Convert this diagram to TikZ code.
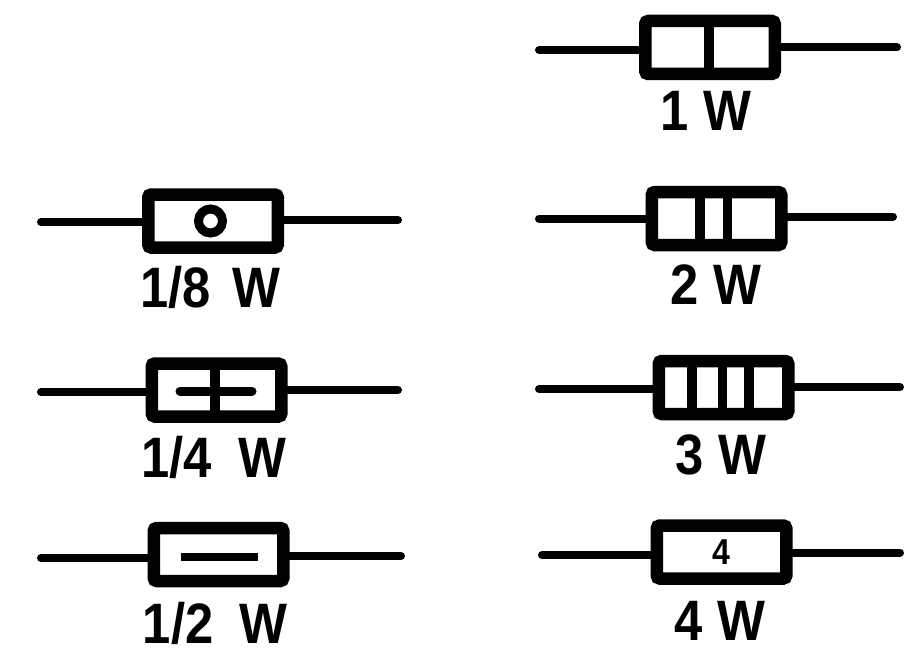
\documentclass[tikz,border=0pt]{standalone}
\usepackage{fontspec}
\usepackage{graphicx}
\setmainfont{Liberation Sans}
\newcommand{\lbltext}[1]{\scalebox{.89}[1]{#1}}
\tikzset{
  resbody/.style={draw=black,line width=12.5pt,rounded corners=3pt,fill=white,inner sep=0pt,minimum width=129.5pt,minimum height=53pt},
  lead/.style={draw=black,line width=8pt,line cap=round},
  barline/.style={draw=black,line width=9.5pt},
  lab/.style={font=\bfseries\fontsize{57}{57}\selectfont,inner sep=0pt,text=black,text height=41pt,text depth=0pt,anchor=south},
}
\begin{document}
\begin{tikzpicture}[x=1pt,y=-1pt]
\useasboundingbox (0,0) rectangle (918,650);
% 1 W
\coordinate (r1l) at (539,50); \coordinate (r1r) at (897,47.5);
\draw[lead] (r1l) -- (645,50); \draw[lead] (775,47.5) -- (r1r);
\node[resbody] (r1) at (710,47.5) {};
\draw[barline] (709,15) -- (709,80);
\node[lab] (t1) at (706,131) {\lbltext{1 W}};
% 2 W
\coordinate (r2l) at (539,218.5); \coordinate (r2r) at (893,216.5);
\draw[lead] (r2l) -- (652,218.5); \draw[lead] (781,216.5) -- (r2r);
\node[resbody] (r2) at (716.5,218.5) {};
\draw[barline] (700,187) -- (700,250);
\draw[barline] (727.5,187) -- (727.5,250);
\node[lab] (t2) at (716,305) {\lbltext{2 W}};
% 3 W
\coordinate (r3l) at (539,389); \coordinate (r3r) at (900,387);
\draw[lead] (r3l) -- (659,389); \draw[lead] (788,387) -- (r3r);
\node[resbody] (r3) at (723.5,387.5) {};
\draw[barline] (692,356) -- (692,419);
\draw[barline] (722.5,356) -- (722.5,419);
\draw[barline] (749,356) -- (749,419);
\node[lab] (t3) at (721,475) {\lbltext{3 W}};
% 4 W
\coordinate (r4l) at (542,555); \coordinate (r4r) at (900,552.5);
\draw[lead] (r4l) -- (657,555); \draw[lead] (786,552.5) -- (r4r);
\node[resbody] (r4) at (721.5,552) {};
\node[font=\bfseries\fontsize{36}{36}\selectfont,inner sep=0pt] (n4) at (721,552) {\lbltext{4}};
\node[lab] (t4) at (720,641) {\lbltext{4 W}};
% 1/8 W
\coordinate (l1l) at (41,222); \coordinate (l1r) at (398,220);
\draw[lead] (l1l) -- (147,222); \draw[lead] (279,220) -- (l1r);
\node[resbody] (l1) at (213,221) {};
\node[draw=black,line width=9pt,circle,minimum size=24pt,inner sep=0pt] (o) at (210.5,221) {};
\node[lab] (t5) at (210.5,308) {\lbltext{1/8\hspace{9pt} W}};
% 1/4 W
\coordinate (l2l) at (41,392); \coordinate (l2r) at (398,390);
\draw[lead] (l2l) -- (152,392); \draw[lead] (281,390) -- (l2r);
\node[resbody] (l2) at (216.5,390) {};
\draw[draw=black,line width=9pt,line cap=round] (180,391) -- (252,391);
\draw[barline] (215,358) -- (215,422);
\node[lab] (t6) at (214,478) {\lbltext{1/4\hspace{15pt} W}};
% 1/2 W
\coordinate (l3l) at (41,558); \coordinate (l3r) at (401,556);
\draw[lead] (l3l) -- (153,558); \draw[lead] (284,556) -- (l3r);
\node[resbody] (l3) at (218.5,554.5) {};
\draw[draw=black,line width=8pt] (181,557) -- (258,557);
\node[lab] (t7) at (215,644) {\lbltext{1/2\hspace{13pt} W}};
\end{tikzpicture}
\end{document}
